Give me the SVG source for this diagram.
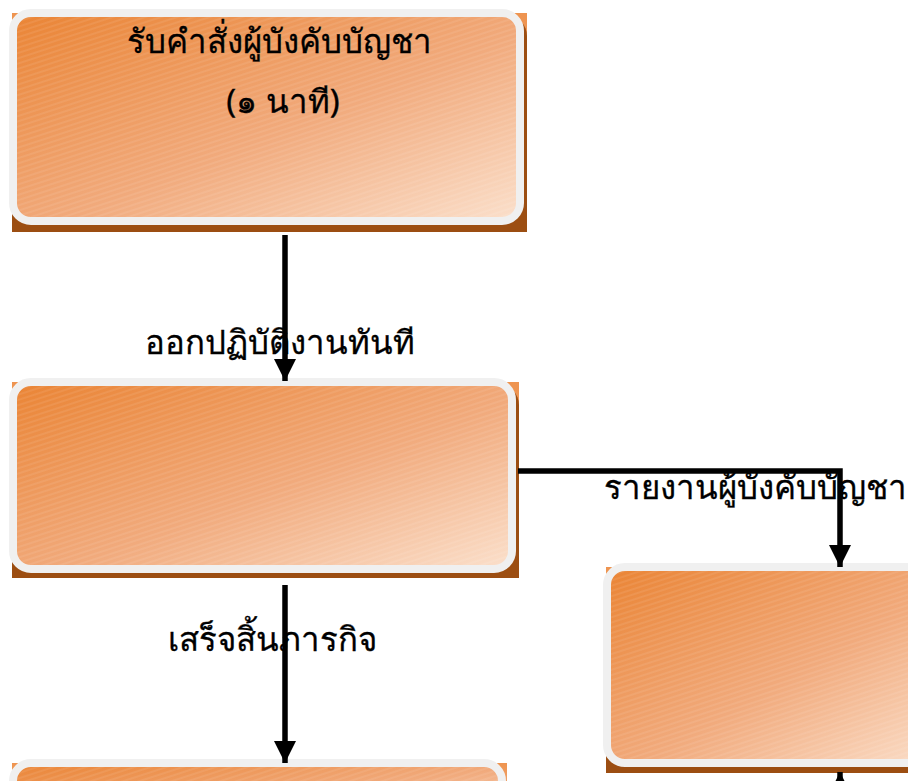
<svg xmlns="http://www.w3.org/2000/svg" width="908" height="781" viewBox="0 0 908 781">
<defs>
<linearGradient id="og" x1="0" y1="0" x2="1" y2="1">
<stop offset="0" stop-color="#ea8434"/>
<stop offset="0.55" stop-color="#f1aa7c"/>
<stop offset="1" stop-color="#fbe0cc"/>
</linearGradient>
<linearGradient id="back" x1="0" y1="0" x2="0" y2="1">
<stop offset="0" stop-color="#ee9450"/>
<stop offset="0.85" stop-color="#f0a571"/>
<stop offset="0.9" stop-color="#9c4e12"/>
<stop offset="1" stop-color="#9c4e12"/>
</linearGradient>
<pattern id="hatch" width="14" height="5" patternUnits="userSpaceOnUse" patternTransform="rotate(-18)">
<line x1="0" y1="1" x2="14" y2="1" stroke="#ffffff" stroke-width="0.7" stroke-opacity="0.22"/>
</pattern>
<marker id="ah" viewBox="0 0 10 10" refX="10" refY="5" markerWidth="4" markerHeight="4" markerUnits="strokeWidth" orient="auto">
<path d="M0,0 L10,5 L0,10 Z" fill="#000"/>
</marker>
</defs>
<style>
.back{fill:url(#back)}
.shadow{fill:#9c4e12}
.box{fill:url(#og);stroke:#f0f0f0;stroke-width:8}
.hatch{fill:url(#hatch);stroke:none}
.lbl{font-family:"Noto Sans","DejaVu Sans",sans-serif;font-size:33px;fill:#000;stroke:#000;stroke-width:0.3}
.conn{fill:none;stroke:#000;stroke-width:5.5}
</style>
<rect width="908" height="781" fill="#fff"/>

<g id="node-receive">
<rect class="back" x="12" y="13" width="515" height="219"/>
<rect class="shadow" x="12" y="16" width="515" height="216" rx="20"/>
<rect class="box" x="13" y="13" width="507" height="208" rx="18"/>
<rect class="hatch" x="17" y="17" width="499" height="200" rx="14"/>
<text class="lbl" x="279" y="53" text-anchor="middle">รับคำสั่งผู้บังคับบัญชา</text>
<text class="lbl" x="283" y="113" text-anchor="middle">(๑ นาที)</text>
</g>

<g id="node-operate">
<rect class="back" x="12" y="382" width="507" height="196"/>
<rect class="shadow" x="12" y="385" width="507" height="193" rx="20"/>
<rect class="box" x="13" y="382" width="499" height="187" rx="18"/>
<rect class="hatch" x="17" y="386" width="491" height="179" rx="14"/>
</g>

<g id="node-report">
<rect class="back" x="606" y="567" width="340" height="206"/>
<rect class="shadow" x="606" y="570" width="340" height="203" rx="20"/>
<rect class="box" x="607" y="567" width="340" height="196" rx="18"/>
<rect class="hatch" x="611" y="571" width="332" height="188" rx="14"/>
</g>

<g id="node-complete">
<rect class="back" x="12" y="763" width="495" height="30"/>
<rect class="box" x="13" y="763" width="489" height="60" rx="18"/>
<rect class="hatch" x="17" y="767" width="481" height="52" rx="14"/>
</g>

<g id="connectors">
<line class="conn" x1="285" y1="235" x2="285" y2="381" marker-end="url(#ah)"/>
<line class="conn" x1="285" y1="585" x2="285" y2="763" marker-end="url(#ah)"/>
<polyline class="conn" points="518,471 840,471 840,567" marker-end="url(#ah)"/>
<line class="conn" x1="840" y1="800" x2="840" y2="772" marker-end="url(#ah)"/>
</g>

<g id="labels">
<text class="lbl" x="280" y="354" text-anchor="middle">ออกปฏิบัติงานทันที</text>
<text class="lbl" x="755" y="499" text-anchor="middle">รายงานผู้บังคับบัญชา</text>
<text class="lbl" x="272" y="651" text-anchor="middle">เสร็จสิ้นภารกิจ</text>
</g>
</svg>
